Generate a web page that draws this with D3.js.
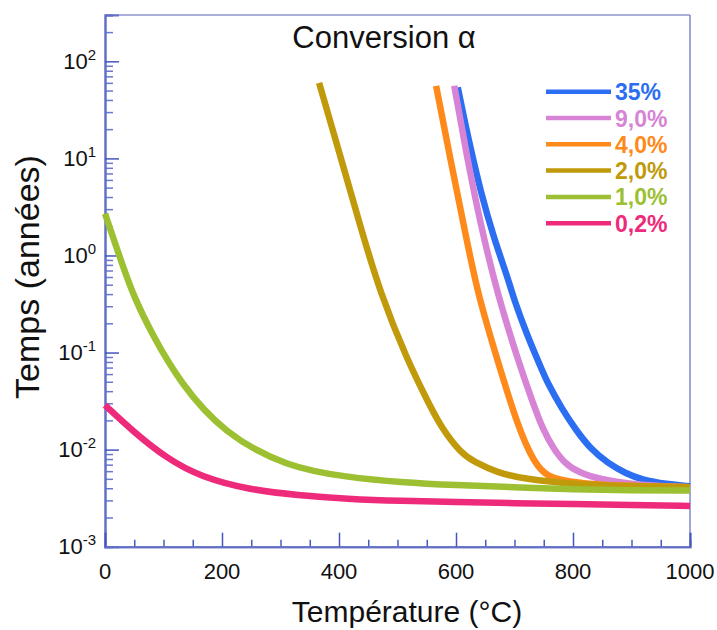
<!DOCTYPE html>
<html>
<head>
<meta charset="utf-8">
<script src="https://cdn.jsdelivr.net/npm/d3@7"></script>
<style>
  html, body { margin: 0; padding: 0; background: #fff; }
  svg { display: block; }
  text { font-family: "Liberation Sans", Arial, Helvetica, sans-serif; }
</style>
</head>
<body>
<svg id="chart" width="717" height="630"></svg>
<script>
// ---- Data ----
const seriesLabels = ["35%", "9,0%", "4,0%", "2,0%", "1,0%", "0,2%"];
const seriesColors = ["#2b6ef2", "#d884d6", "#ff8a1c", "#c09a0a", "#9cc032", "#ee2a7a"];

const temp35 = [603, 620, 643, 665, 688, 700, 720, 746, 757, 780, 806, 830, 860, 890, 917, 960, 1000];
const time35 = [54, 17, 4.3, 1.5, 0.6, 0.34, 0.16, 0.068, 0.048, 0.027, 0.0156, 0.0102, 0.0072, 0.0057, 0.0049, 0.0044, 0.0042];

const temp9 = [597, 620, 643, 671, 706, 730, 749, 767, 786, 810, 849, 900, 950, 1000];
const time9 = [56, 9.4, 1.95, 0.40, 0.083, 0.032, 0.0158, 0.0102, 0.0072, 0.0058, 0.0049, 0.0044, 0.0042, 0.0041];

const temp4 = [566, 591, 614, 637, 671, 706, 734, 757, 791, 850, 920, 1000];
const time4 = [56, 9.4, 1.95, 0.40, 0.083, 0.017, 0.0072, 0.0052, 0.0047, 0.0043, 0.0042, 0.0041];

const temp2 = [366, 403, 437, 471, 517, 551, 574, 609, 631, 670, 717, 800, 900, 1000];
const time2 = [60, 10.2, 1.95, 0.40, 0.083, 0.032, 0.0171, 0.0091, 0.0075, 0.0058, 0.0050, 0.0044, 0.0042, 0.0041];

const temp1 = [0, 31, 50, 80, 129, 203, 311, 414, 506, 600, 700, 800, 900, 1000];
const time1 = [2.7, 0.76, 0.37, 0.156, 0.048, 0.0147, 0.0066, 0.0052, 0.0046, 0.0043, 0.0041, 0.0039, 0.0038, 0.0038];

const temp02 = [0, 49, 106, 163, 249, 330, 414, 506, 600, 700, 800, 900, 1000];
const time02 = [0.0287, 0.0152, 0.0081, 0.00525, 0.00383, 0.0034, 0.0031, 0.00295, 0.0029, 0.0028, 0.00275, 0.0027, 0.00263];

const xTickValues = [0, 200, 400, 600, 800, 1000];
const xMinorTicks = [50, 100, 150, 250, 300, 350, 450, 500, 550, 650, 700, 750, 850, 900, 950];
const yExponents = [-3, -2, -1, 0, 1, 2];

const titleText = "Conversion \u03B1";
const xTitle = "Température (°C)";
const yTitle = "Temps (années)";

// ---- Build ----
(function () {
const temps = [temp35, temp9, temp4, temp2, temp1, temp02];
const times = [time35, time9, time4, time2, time1, time02];
const series = seriesLabels.map((label, i) => ({
  label, color: seriesColors[i],
  values: temps[i].map((t, j) => ({ t, v: times[i][j] }))
}));

const svg = d3.select("#chart");
const pLeft = 105, pRight = 690, pTop = 15, pBottom = 546.7;

const x = d3.scaleLinear().domain([0, 1000]).range([pLeft, pRight]);
const y = d3.scaleLog().domain([1e-3, 300]).range([pBottom, pTop]);

// frame (top / right)
svg.append("line").attr("x1", pLeft).attr("x2", pRight).attr("y1", pTop).attr("y2", pTop)
  .attr("stroke", "#8d94cc").attr("stroke-width", 1.5);
svg.append("line").attr("x1", pRight).attr("x2", pRight).attr("y1", pTop).attr("y2", pBottom)
  .attr("stroke", "#7f88cc").attr("stroke-width", 1.5);

// Minor y ticks
const yMinor = [];
for (let e = -3; e <= 2; e++) for (let m = 2; m <= 9; m++) {
  const v = m * Math.pow(10, e);
  if (v <= 300) yMinor.push(v);
}
const axisColor = "#4455c0";

const gyMinor = svg.append("g").attr("transform", `translate(${pLeft},0)`)
  .call(d3.axisLeft(y).tickValues(yMinor).tickSize(-8).tickFormat(""));
const gyMajor = svg.append("g").attr("transform", `translate(${pLeft},0)`)
  .call(d3.axisLeft(y).tickValues(yExponents.map(e => Math.pow(10, e))).tickSize(-14).tickFormat(""));
const gxMinor = svg.append("g").attr("transform", `translate(0,${pBottom})`)
  .call(d3.axisBottom(x).tickValues(xMinorTicks).tickSize(-7).tickFormat(""));
const gxMajor = svg.append("g").attr("transform", `translate(0,${pBottom})`)
  .call(d3.axisBottom(x).tickValues(xTickValues).tickSize(-14).tickFormat(""));

[gyMinor, gyMajor, gxMinor, gxMajor].forEach(g => {
  g.selectAll(".domain").attr("stroke", "#6470c8").attr("stroke-width", 2);
  g.selectAll(".tick line").attr("stroke", axisColor).attr("stroke-width", 1.5);
});
gyMinor.selectAll(".tick line").attr("stroke", "#6b78cc");
gxMinor.selectAll(".tick line").attr("stroke", "#4a5ac4");

// y labels 10^n
yExponents.forEach(e => {
  const ty = y(Math.pow(10, e));
  const t = svg.append("text")
    .attr("x", 96).attr("y", ty + 7.5)
    .attr("text-anchor", "end")
    .attr("font-size", 22).attr("fill", "#111");
  t.append("tspan").text("10");
  t.append("tspan").attr("dy", -9).attr("font-size", 15).text(String(e));
});

// x labels
xTickValues.forEach(v => {
  svg.append("text").attr("x", x(v)).attr("y", 579)
    .attr("text-anchor", "middle").attr("font-size", 22).attr("fill", "#111")
    .text(v);
});

// Axis titles
svg.append("text").attr("x", 407).attr("y", 622)
  .attr("text-anchor", "middle").attr("font-size", 30).attr("fill", "#111").text(xTitle);
svg.append("text").attr("transform", "translate(39,277) rotate(-90)")
  .attr("text-anchor", "middle").attr("font-size", 34).attr("fill", "#111").text(yTitle);

// Title
svg.append("text").attr("x", 384).attr("y", 48)
  .attr("text-anchor", "middle").attr("font-size", 31).attr("fill", "#111").text(titleText);

// Curves
const line = d3.line().x(d => x(d.t)).y(d => y(d.v)).curve(d3.curveBasis);
svg.append("g").selectAll("path").data(series).join("path")
  .attr("d", d => line(d.values))
  .attr("fill", "none")
  .attr("stroke", d => d.color)
  .attr("stroke-width", 6.5)
  .attr("stroke-linejoin", "round");

// Legend
const legend = svg.append("g");
const legY0 = 91.7, legStep = 26.3;
series.forEach((s, i) => {
  const ly = legY0 + i * legStep;
  legend.append("line").attr("x1", 546).attr("x2", 611).attr("y1", ly).attr("y2", ly)
    .attr("stroke", s.color).attr("stroke-width", 4.5);
  legend.append("text").attr("x", 615).attr("y", ly + 8.5)
    .attr("font-size", 23).attr("font-weight", "bold").attr("fill", s.color).text(s.label);
});
})();
</script>
</body>
</html>
